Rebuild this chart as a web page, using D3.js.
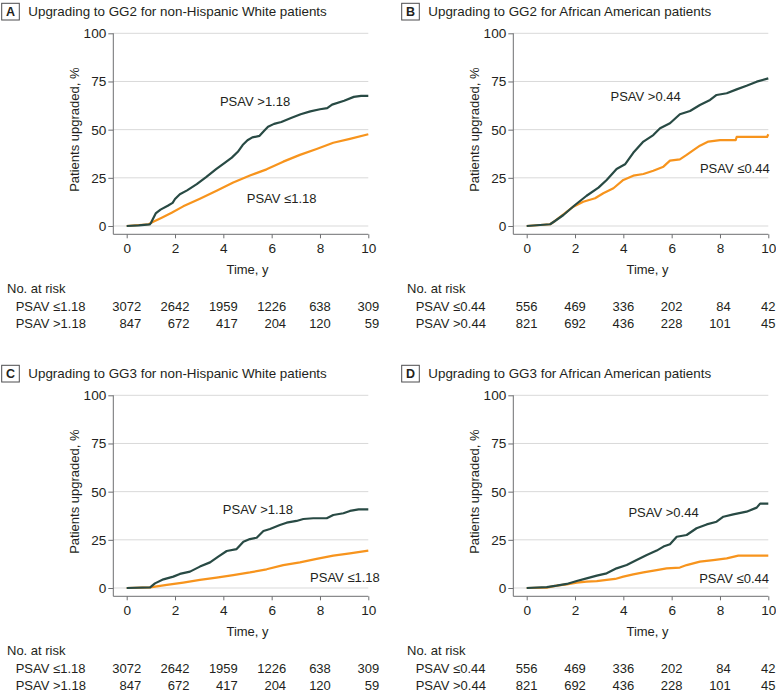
<!DOCTYPE html>
<html><head><meta charset="utf-8">
<script src="https://cdn.jsdelivr.net/npm/d3@7"></script>
<style>
body{margin:0;background:#fff;}
svg{display:block;font-family:"Liberation Sans",Arial,sans-serif;}
</style>
</head><body>
<svg id="chart" width="776" height="693"></svg>
<script>
// ---------- data ----------
const timeTicks = [0, 2, 4, 6, 8, 10];
const pctTicks = [0, 25, 50, 75, 100];
const panelLetters = ["A", "B", "C", "D"];
const panelTitles = [
  "Upgrading to GG2 for non-Hispanic White patients",
  "Upgrading to GG2 for African American patients",
  "Upgrading to GG3 for non-Hispanic White patients",
  "Upgrading to GG3 for African American patients"
];
const lowLabels = ["PSAV ≤1.18", "PSAV ≤0.44", "PSAV ≤1.18", "PSAV ≤0.44"];
const highLabels = ["PSAV >1.18", "PSAV >0.44", "PSAV >1.18", "PSAV >0.44"];

const riskLowA = [3072, 2642, 1959, 1226, 638, 309];
const riskHighA = [847, 672, 417, 204, 120, 59];
const riskLowB = [556, 469, 336, 202, 84, 42];
const riskHighB = [821, 692, 436, 228, 101, 45];
const riskLowC = [3072, 2642, 1959, 1226, 638, 309];
const riskHighC = [847, 672, 417, 204, 120, 59];
const riskLowD = [556, 469, 336, 202, 84, 42];
const riskHighD = [821, 692, 436, 228, 101, 45];

// cumulative upgrading (%) by time (y): [time, percent]
const curveHighA = [[0,0],[0.5,0.3],[0.95,0.8],[1.0,1.5],[1.1,4],[1.2,6.5],[1.4,8.5],[1.7,10.5],[1.9,12],[2.0,14],[2.2,16.5],[2.5,18.5],[2.9,21.7],[3.3,25.5],[3.7,29.5],[4.0,32.3],[4.35,35.5],[4.6,38.5],[4.8,42],[5.0,44.5],[5.2,46],[5.5,46.8],[5.7,49.5],[5.85,51.5],[6.1,53],[6.4,54],[6.8,56],[7.2,58],[7.6,59.5],[8.0,60.6],[8.3,61.2],[8.5,63],[9.0,65],[9.4,67],[9.7,67.5],[10,67.5]];
const curveLowA = [[0,0],[0.9,0.9],[1.1,2.2],[1.45,4.3],[1.86,6.9],[2.34,10.2],[3.03,14.2],[3.72,18.3],[4.41,22.6],[5.1,26.2],[5.79,29.4],[6.48,33.4],[7.17,36.9],[7.86,40],[8.55,43.2],[9.24,45.2],[10,47.6]];
const curveHighB = [[0,0],[0.97,0.9],[1.17,2.6],[1.52,5.7],[2.0,10.9],[2.48,15.7],[2.97,19.9],[3.31,23.9],[3.72,29.6],[4.07,32],[4.41,38],[4.83,43.8],[5.24,47.2],[5.52,50.7],[5.93,53.3],[6.34,58],[6.76,59.7],[7.17,62.8],[7.59,65.4],[7.86,68],[8.28,68.9],[8.69,70.9],[9.1,72.8],[9.52,74.9],[10,76.6]];
const curveLowB = [[0,0],[0.97,0.9],[1.17,2.6],[1.52,6],[1.93,10],[2.34,12.6],[2.83,14.4],[3.17,17],[3.59,19.6],[4.0,23.9],[4.41,26.1],[4.83,27],[5.24,28.7],[5.66,30.8],[5.93,33.9],[6.34,34.6],[6.62,36.9],[6.9,39.4],[7.17,41.7],[7.52,43.8],[8.0,44.6],[8.65,44.6],[8.69,46.2],[9.95,46.2],[10,47.6]];
const curveHighC = [[0,0],[0.97,0.3],[1.17,2.4],[1.52,4.5],[1.93,5.9],[2.2,7.3],[2.62,8.5],[3.03,11.1],[3.45,13.3],[3.79,16.3],[4.14,19.2],[4.55,20.2],[4.83,24],[5.1,25.4],[5.38,26.1],[5.66,29.6],[5.93,30.6],[6.34,32.7],[6.62,33.9],[7.03,34.8],[7.31,35.8],[7.72,36.2],[8.28,36.2],[8.55,37.9],[8.97,38.8],[9.24,40],[9.6,40.8],[10,40.8]];
const curveLowC = [[0,0],[0.97,0.3],[1.66,1.6],[2.34,2.8],[3.03,4.2],[3.72,5.4],[4.41,6.7],[5.1,8.1],[5.79,9.7],[6.48,11.9],[7.17,13.3],[7.86,15.1],[8.55,16.8],[9.24,18],[10,19.4]];
const curveHighD = [[0,0],[0.83,0.5],[1.24,1.2],[1.66,2.1],[2.07,3.6],[2.48,5],[2.9,6.4],[3.31,7.6],[3.72,10.2],[4.14,11.9],[4.55,14.5],[4.97,17.1],[5.38,19.4],[5.66,21.5],[5.93,22.7],[6.21,26.6],[6.62,27.5],[7.03,31],[7.45,33],[7.86,34.4],[8.14,37],[8.55,38.2],[9.1,39.6],[9.52,41.7],[9.66,43.8],[10,43.8]];
const curveLowD = [[0,0],[0.83,0.2],[1.24,1.2],[1.66,1.9],[2.07,2.8],[2.48,3.3],[2.9,3.6],[3.31,4.2],[3.66,4.7],[4.0,5.9],[4.41,7.1],[4.83,8.1],[5.38,9.3],[5.79,10.2],[6.34,10.6],[6.62,11.9],[7.17,13.7],[7.72,14.5],[8.28,15.4],[8.76,16.8],[10,16.8]];

// annotation anchor points in data units [time, percent] (label position)
const highLabelAt = [[3.86, 62.5], [3.47, 65.0], [3.98, 38.3], [4.21, 36.6]];
const lowLabelAt = [[4.97, 12.0], [7.17, 27.6], [7.59, 3.1], [7.14, 2.7]];

// ---------- layout ----------
const panelOffsets = [[0, 0], [400, 0], [0, 362], [400, 362]];
const colDark = "#284a44", colOrange = "#f7941d";
const textCol = "#231f20", axisCol = "#6d6e71", gridCol = "#d9d9d9";
const fs = 13, tickFs = 13.6;

const svg = d3.select("#chart");
const x = d3.scaleLinear().domain([0, 10]).range([126.7, 368.3]);
const y = d3.scaleLinear().domain([0, 100]).range([226, 33.3]);
const yAxisX = 113.3, xAxisY = 234.3;

const panels = [
  {high: curveHighA, low: curveLowA, rl: riskLowA, rh: riskHighA},
  {high: curveHighB, low: curveLowB, rl: riskLowB, rh: riskHighB},
  {high: curveHighC, low: curveLowC, rl: riskLowC, rh: riskHighC},
  {high: curveHighD, low: curveLowD, rl: riskLowD, rh: riskHighD}
];

const line = d3.line().x(d => x(d[0])).y(d => y(d[1])).curve(d3.curveLinear);

panels.forEach((p, i) => {
  const g = svg.append("g").attr("transform", `translate(${panelOffsets[i][0]},${panelOffsets[i][1]})`);

  // letter box + title
  g.append("rect").attr("x", 1.7).attr("y", 3.3).attr("width", 17.6).attr("height", 16.7)
    .attr("fill", "#fff").attr("stroke", "#4d4d4f").attr("stroke-width", 1);
  g.append("text").attr("x", 10.5).attr("y", 16.2).attr("text-anchor", "middle")
    .attr("font-weight", "bold").attr("font-size", 12.5).attr("fill", textCol).text(panelLetters[i]);
  g.append("text").attr("x", 28.3).attr("y", 15.5).attr("font-size", 13.4)
    .attr("fill", textCol).text(panelTitles[i]);

  // gridlines
  g.append("g").selectAll("line").data(pctTicks).join("line")
    .attr("x1", yAxisX).attr("x2", x(10)).attr("y1", d => y(d)).attr("y2", d => y(d))
    .attr("stroke", gridCol).attr("stroke-width", 1);

  // y axis
  const ya = g.append("g").attr("transform", `translate(${yAxisX},0)`)
    .call(d3.axisLeft(y).tickValues(pctTicks).tickSize(5).tickPadding(2).tickSizeOuter(0));
  ya.select(".domain").remove();
  ya.selectAll(".tick line").attr("stroke", axisCol);
  ya.selectAll(".tick text").attr("font-size", tickFs).attr("fill", textCol);
  ya.attr("font-family", null).attr("font-size", null);
  g.append("line").attr("x1", yAxisX).attr("x2", yAxisX).attr("y1", y(100)).attr("y2", xAxisY)
    .attr("stroke", axisCol).attr("stroke-width", 1);

  // x axis
  const xa = g.append("g").attr("transform", `translate(0,${xAxisY})`)
    .call(d3.axisBottom(x).tickValues(timeTicks).tickSize(4).tickPadding(5).tickSizeOuter(0));
  xa.select(".domain").remove();
  xa.selectAll(".tick line").attr("stroke", axisCol);
  xa.selectAll(".tick text").attr("font-size", tickFs).attr("fill", textCol);
  xa.attr("font-family", null).attr("font-size", null);
  g.append("line").attr("x1", yAxisX).attr("x2", x(10)).attr("y1", xAxisY).attr("y2", xAxisY)
    .attr("stroke", axisCol).attr("stroke-width", 1);

  // axis titles
  g.append("text").attr("transform", `translate(79,${(y(0) + y(100)) / 2}) rotate(-90)`)
    .attr("text-anchor", "middle").attr("font-size", fs).attr("fill", textCol).text("Patients upgraded, %");
  g.append("text").attr("x", (x(0) + x(10)) / 2).attr("y", 274).attr("text-anchor", "middle")
    .attr("font-size", fs).attr("fill", textCol).text("Time, y");

  // curves
  g.append("path").datum(p.low).attr("d", line).attr("fill", "none")
    .attr("stroke", colOrange).attr("stroke-width", 2.2).attr("stroke-linejoin", "round");
  g.append("path").datum(p.high).attr("d", line).attr("fill", "none")
    .attr("stroke", colDark).attr("stroke-width", 2.2).attr("stroke-linejoin", "round");

  // inline labels
  g.append("text").attr("x", x(highLabelAt[i][0])).attr("y", y(highLabelAt[i][1]))
    .attr("font-size", fs).attr("fill", textCol).text(highLabels[i]);
  g.append("text").attr("x", x(lowLabelAt[i][0])).attr("y", y(lowLabelAt[i][1]))
    .attr("font-size", fs).attr("fill", textCol).text(lowLabels[i]);

  // risk table
  g.append("text").attr("x", 7).attr("y", 292.5).attr("font-size", fs).attr("fill", textCol).text("No. at risk");
  g.append("text").attr("x", 15.7).attr("y", 310.5).attr("font-size", fs).attr("fill", textCol).text(lowLabels[i]);
  g.append("text").attr("x", 15.7).attr("y", 328).attr("font-size", fs).attr("fill", textCol).text(highLabels[i]);
  timeTicks.forEach((t, j) => {
    const a = g.append("text").attr("y", 310.5).attr("font-size", fs).attr("fill", textCol)
      .attr("text-anchor", "end").text(p.rl[j]);
    const b = g.append("text").attr("y", 328).attr("font-size", fs).attr("fill", textCol)
      .attr("text-anchor", "end").text(p.rh[j]);
    const w = Math.max(a.node().getComputedTextLength(), b.node().getComputedTextLength());
    a.attr("x", x(t) + w / 2);
    b.attr("x", x(t) + w / 2);
  });
});
</script>
</body></html>
